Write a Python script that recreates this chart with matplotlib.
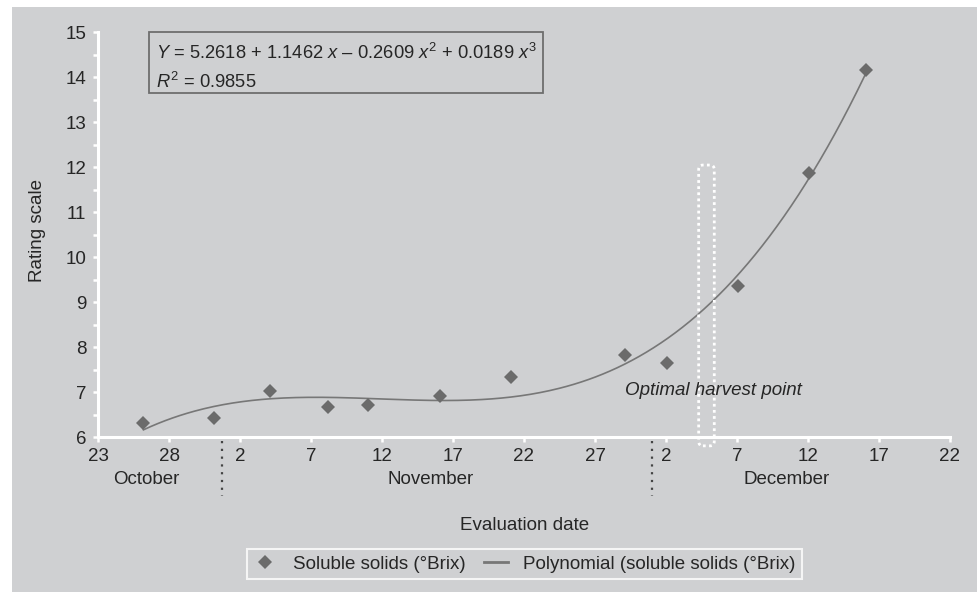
import numpy as np
import matplotlib
matplotlib.use("Agg")
import matplotlib.pyplot as plt
from matplotlib.patches import Rectangle, FancyBboxPatch
from matplotlib.lines import Line2D
import matplotlib.transforms as mtransforms

plt.rcParams['font.family'] = ['Liberation Sans', 'DejaVu Sans']
plt.rcParams['mathtext.fontset'] = 'custom'
plt.rcParams['mathtext.rm'] = 'Liberation Sans'
plt.rcParams['mathtext.it'] = 'Liberation Sans:italic'
plt.rcParams['mathtext.bf'] = 'Liberation Sans:bold'

# days counted from 23 October
sample_day = [3.2, 8.2, 12.1, 16.2, 19.0, 24.1, 29.1, 37.1, 40.1, 45.1, 50.1, 54.1]
brix = [6.31, 6.44, 7.04, 6.67, 6.71, 6.92, 7.33, 7.84, 7.66, 9.37, 11.87, 14.16]
coef = [5.2618, 1.1462, -0.2609, 0.0189]  # Y = a + b x + c x^2 + d x^3, x = sample no.
r2 = 0.9855

tick_day = list(range(0, 61, 5))
tick_labels = ['23', '28', '2', '7', '12', '17', '22', '27', '2', '7', '12', '17', '22']
month_names = ['October', 'November', 'December']
month_pos = [3.4, 23.4, 48.5]
month_breaks = [8.75, 39.0]
harvest_day = 42.85

bg = '#cfd0d2'
txt = '#262626'
W, H = 977, 592

fig = plt.figure(figsize=(9.77, 5.92), dpi=100)
fig.patch.set_facecolor('white')
fig.patches.append(Rectangle((12 / W, 0), 1 - 12 / W, 1 - 7 / H, transform=fig.transFigure,
                             facecolor=bg, edgecolor='none', zorder=-10))

ax = fig.add_axes([98 / W, (H - 437.3) / H, (950 - 98) / W, (437.3 - 32.3) / H])
ax.set_facecolor('none')
ax.set_xlim(0, 60)
ax.set_ylim(6, 15)

for s in ['top', 'right']:
    ax.spines[s].set_visible(False)
for s in ['left', 'bottom']:
    ax.spines[s].set_color('white')
    ax.spines[s].set_linewidth(2.2)

ax.set_xticks(tick_day)
ax.set_xticklabels(tick_labels)
ax.set_yticks(range(6, 16))
ax.set_yticks(np.arange(6.5, 15, 1), minor=True)
ax.tick_params(axis='both', which='both', color='white', width=1.8, length=3.5,
               labelsize=13.5, labelcolor=txt, direction='out')
ax.tick_params(axis='x', pad=4)
ax.tick_params(axis='y', pad=5)

# fitted polynomial, sample number spread evenly over the sampling period
t = np.linspace(1, 12, 300)
yfit = coef[0] + coef[1] * t + coef[2] * t ** 2 + coef[3] * t ** 3
xfit = sample_day[0] + (t - 1) * (sample_day[-1] - sample_day[0]) / 11
ax.plot(xfit, yfit, color='#777777', lw=1.2, zorder=3)
ax.plot(sample_day, brix, 'D', color='#6b6b6b', ms=7.6, mew=0, zorder=4)

# month labels and separators
btrans = mtransforms.blended_transform_factory(ax.transData, ax.transAxes)
for name, pos in zip(month_names, month_pos):
    ax.text(pos, -0.103, name, transform=btrans, ha='center', va='center',
            fontsize=13.5, color=txt)
for b in month_breaks:
    ax.plot([b, b], [-0.008, -0.145], transform=btrans, color='#444444', lw=1.6,
            ls=(0, (1, 2.5)), clip_on=False)

# optimal harvest box
box = FancyBboxPatch((harvest_day - 0.55, 5.81), 1.1, 12.05 - 5.81,
                     boxstyle='round,pad=0,rounding_size=0.3', mutation_aspect=1 / 3,
                     facecolor='none', edgecolor='white', lw=2, ls=(0, (1, 1.2)),
                     clip_on=False, zorder=5)
ax.add_patch(box)
ax.text(43.35, 7.05, 'Optimal harvest point', style='italic', ha='center', va='center',
        fontsize=13.5, color=txt, zorder=6)

# equation box
fig.patches.append(Rectangle((149 / W, (H - 92.7) / H), (542.7 - 149) / W, (92.7 - 31.7) / H,
                             transform=fig.transFigure, facecolor='none',
                             edgecolor='#6e6e6e', lw=1.3))
eq = (r'$\mathit{Y}$ = %.4f + %.4f $\mathit{x}$ – %.4f $\mathit{x}^{2}$ + %.4f $\mathit{x}^{3}$'
      % (coef[0], coef[1], -coef[2], coef[3]))
fig.text(156 / W, 1 - 53.3 / H, eq, ha='left', va='center', fontsize=13.2, color=txt)
fig.text(156 / W, 1 - 81.7 / H, r'$\mathit{R}^{2}$ = %.4f' % r2, ha='left', va='center',
         fontsize=13.2, color=txt)

# axis titles
fig.text(37.3 / W, 1 - 230 / H, 'Rating scale', rotation=90, ha='center', va='center',
         fontsize=13.5, color=txt)
fig.text(525 / W, 1 - 525.7 / H, 'Evaluation date', ha='center', va='center',
         fontsize=13.5, color=txt)

handles = [Line2D([], [], marker='D', color='#6b6b6b', ls='none', ms=7.6, mew=0),
           Line2D([], [], color='#777777', lw=2)]
leg = fig.legend(handles, ['Soluble solids (°Brix)', 'Polynomial (soluble solids (°Brix)'],
                 loc='center', bbox_to_anchor=(524.5 / W, 1 - 564 / H), ncol=2,
                 fontsize=13.5, frameon=True, fancybox=False, handlelength=1.3,
                 handletextpad=0.8, columnspacing=1.0, borderpad=0.35, labelcolor=txt)
leg.get_frame().set_facecolor(bg)
leg.get_frame().set_edgecolor('white')
leg.get_frame().set_linewidth(1.5)

fig.savefig('out.png', dpi=100, facecolor=fig.get_facecolor())
